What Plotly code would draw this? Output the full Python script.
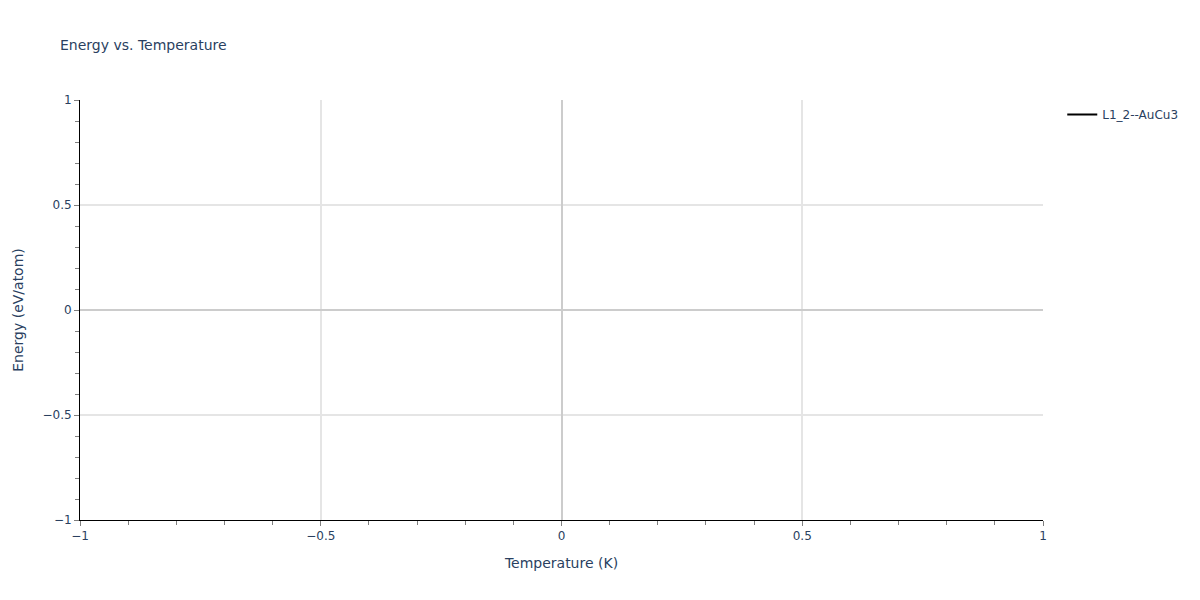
import plotly.graph_objects as go

# the reference shows no data points, only the legend entry
temperature = [None]
energy = [None]
series_name = "L1_2--AuCu3"

fig = go.Figure()
fig.add_trace(go.Scatter(
    x=temperature,
    y=energy,
    mode="lines",
    name=series_name,
    line=dict(color="black", width=2),
))

axis_style = dict(
    showline=True,
    linecolor="black",
    linewidth=1,
    ticks="outside",
    tickcolor="#7f7f7f",
    gridcolor="#e5e5e5",
    gridwidth=2,
    zeroline=True,
    zerolinecolor="#cccccc",
    zerolinewidth=2,
    tickfont=dict(size=12),
    minor=dict(ticks="outside", dtick=0.1, ticklen=4, tickcolor="#7f7f7f", showgrid=False),
)

fig.update_layout(
    template="plotly_white",
    font=dict(family="DejaVu Sans", size=12, color="#2a3f5f"),
    title=dict(text="Energy vs. Temperature", font=dict(size=14), x=0.05),
    showlegend=True,
    width=1200,
    height=600,
    margin=dict(l=80, r=157, t=100, b=80),
    xaxis=dict(title=dict(text="Temperature (K)", font=dict(size=14)), range=[-1, 1], dtick=0.5, **axis_style),
    yaxis=dict(title=dict(text="Energy (eV/atom)", font=dict(size=14)), range=[-1, 1], dtick=0.5, **axis_style),
    legend=dict(x=1.02, y=1, xanchor="left", yanchor="top", font=dict(size=12)),
)

fig.write_html("out.html", config={"displayModeBar": False},
               post_script="document.body.style.margin='0';")
